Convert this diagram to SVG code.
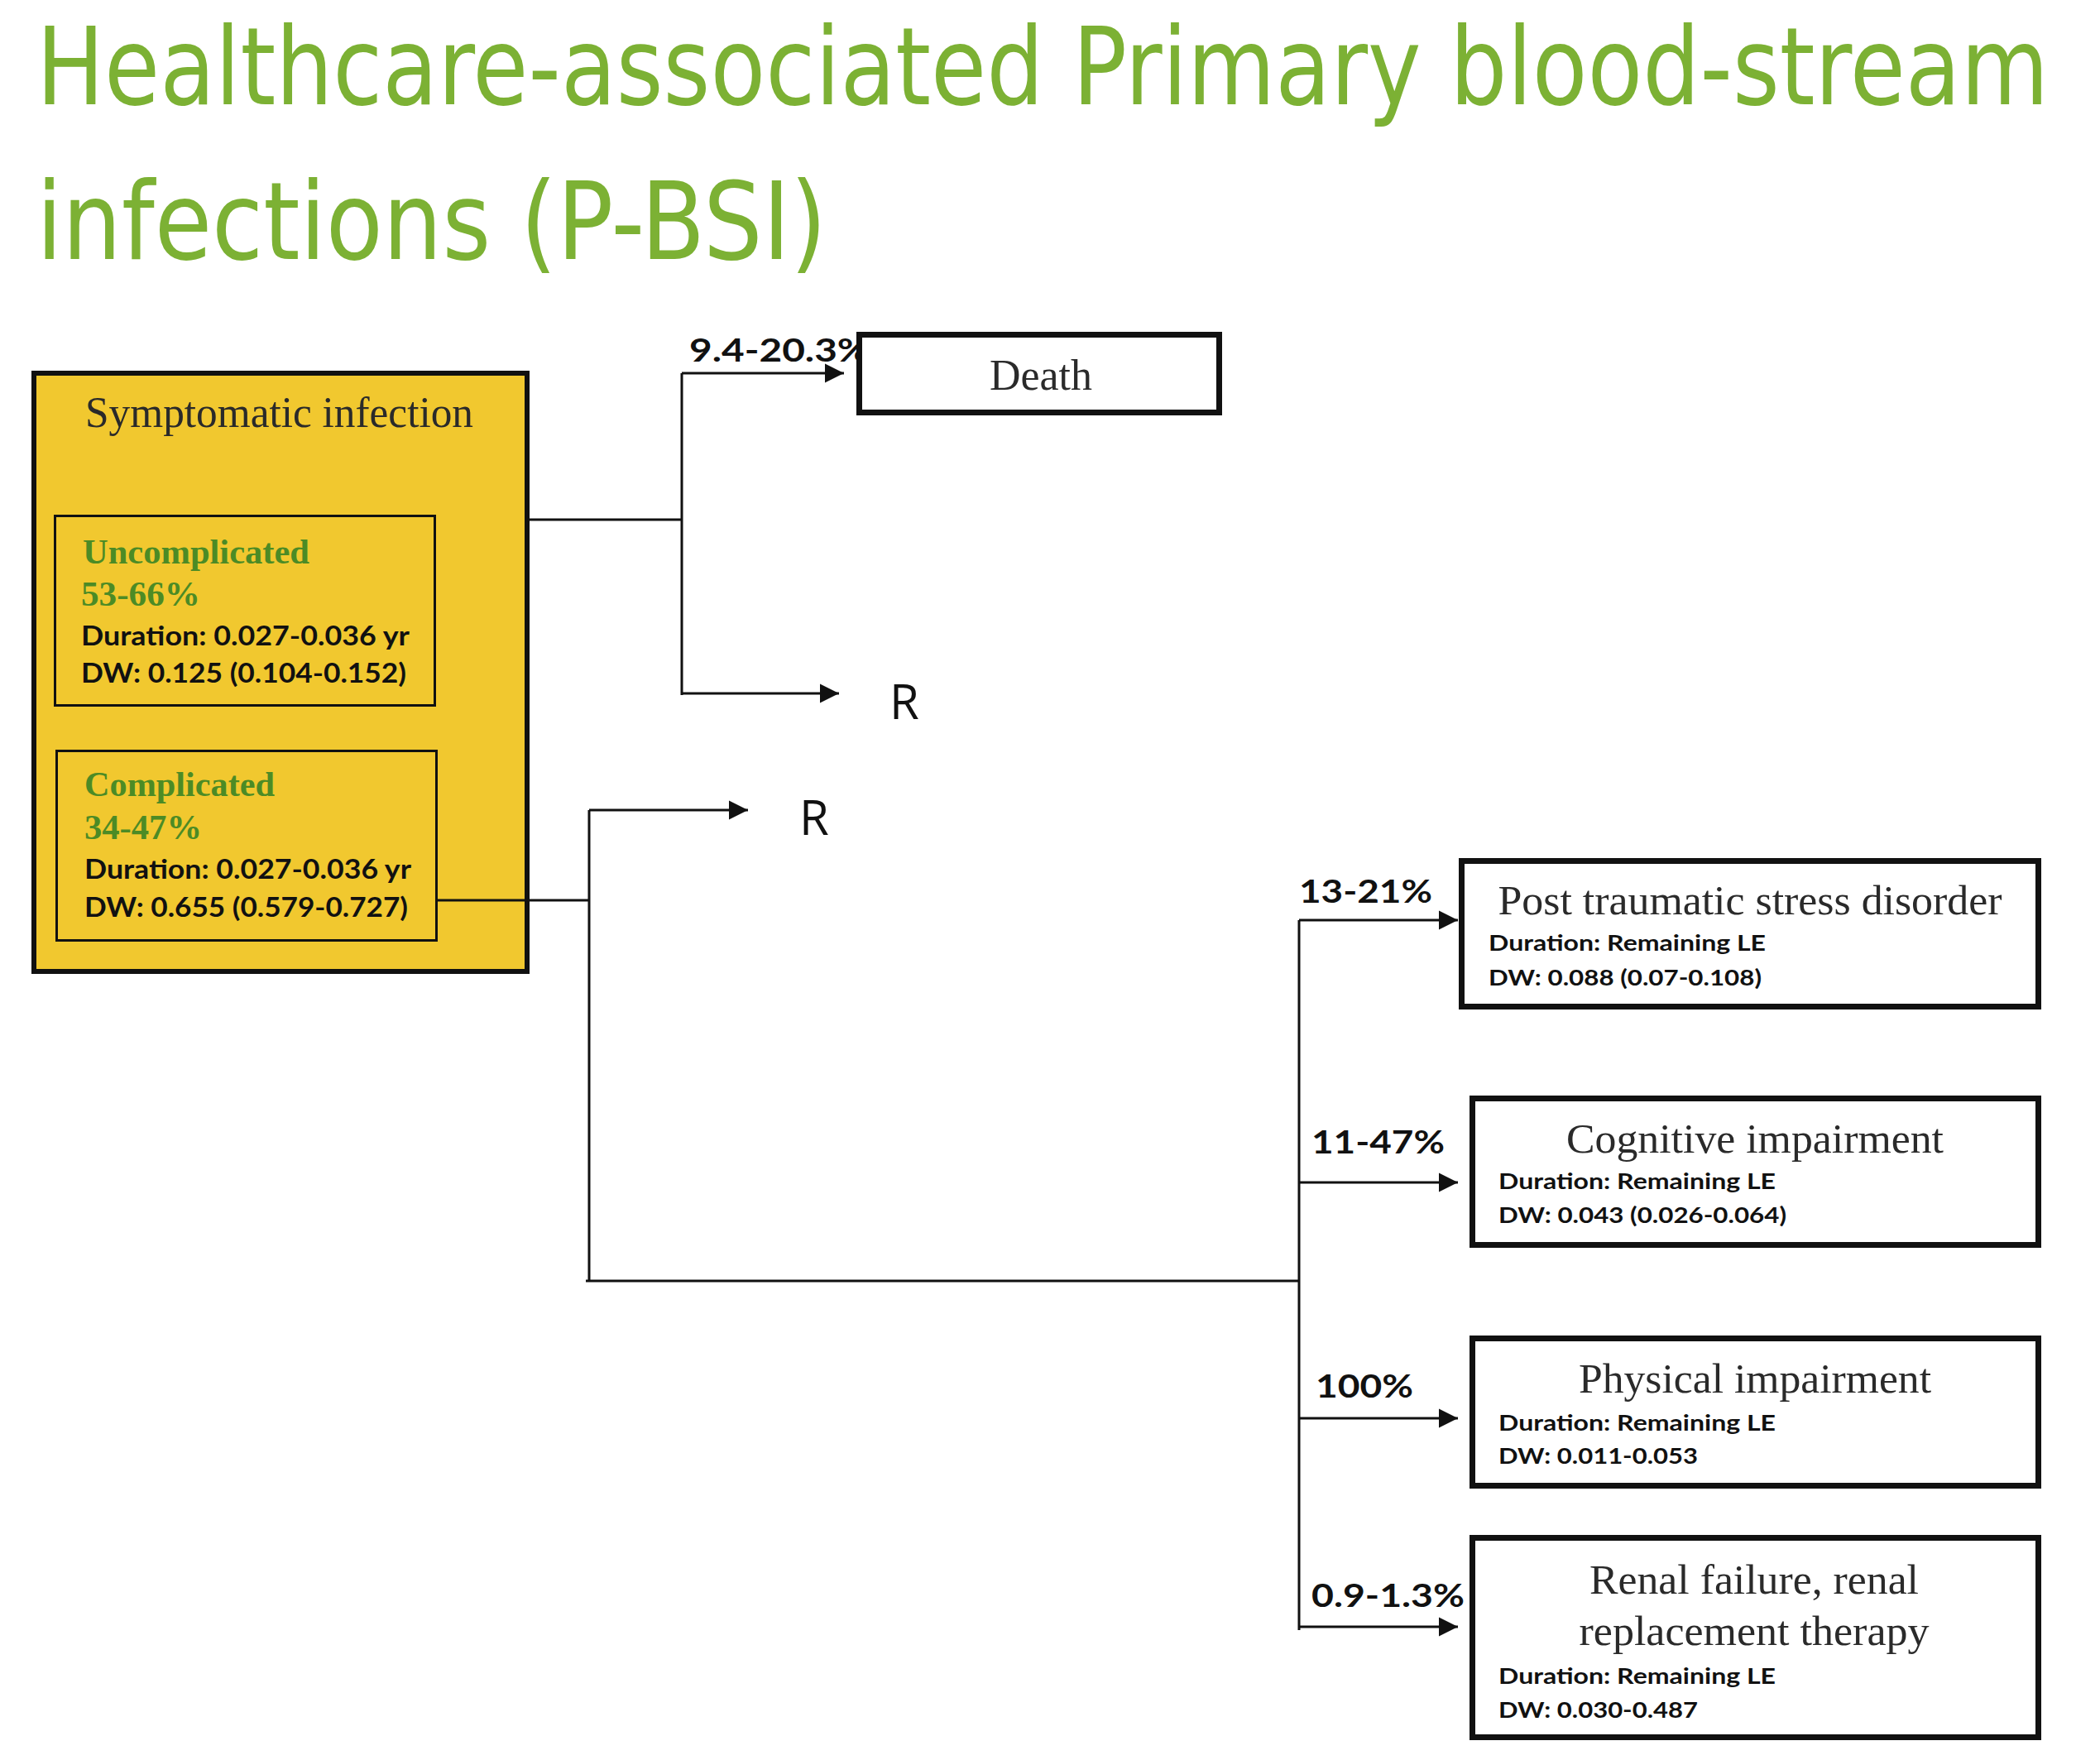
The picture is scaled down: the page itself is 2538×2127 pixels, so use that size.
<svg xmlns="http://www.w3.org/2000/svg" width="2538" height="2127" viewBox="0 0 2538 2127">
<defs>
<marker id="arr" markerUnits="userSpaceOnUse" markerWidth="24" markerHeight="24" viewBox="0 0 24 24" refX="23" refY="12" orient="auto">
<path d="M0,0.5 L23,12 L0,23.5 Z" fill="#111"/>
</marker>
<style>
.title{font-family:"DejaVu Sans Condensed","DejaVu Sans",sans-serif;font-size:130px;fill:#7CB134}
.box{fill:#fff;stroke:#111;stroke-width:7}
.head{font-family:"Liberation Serif","Times New Roman",serif;fill:#2a2a2a}
.det{font-family:Lato,"Liberation Sans",sans-serif;font-weight:bold;fill:#111}
.grn{font-family:"Liberation Serif","Times New Roman",serif;font-weight:bold;fill:#4C8B25;font-size:43px}
.lbl{font-family:Lato,"Liberation Sans",sans-serif;font-weight:bold;fill:#111;font-size:38px}
.r{font-family:"Open Sans","Noto Sans",sans-serif;fill:#111;font-size:58px}
.ln{fill:none;stroke:#111;stroke-width:3}
.la{fill:none;stroke:#111;stroke-width:3;marker-end:url(#arr)}
</style>
</defs>
<rect width="2538" height="2127" fill="#fff"/>
<g id="title">
<text class="title" x="44" y="126" textLength="2432" lengthAdjust="spacingAndGlyphs">Healthcare-associated Primary blood-stream</text>
<text class="title" x="44" y="313" textLength="955" lengthAdjust="spacingAndGlyphs">infections (P-BSI)</text>
</g>
<g id="symptomatic">
<rect x="41" y="451" width="596" height="723" fill="#F1C82F" stroke="#111" stroke-width="6"/>
<text class="head" x="103" y="516" font-size="52" fill="#111" textLength="469" lengthAdjust="spacingAndGlyphs">Symptomatic infection</text>
</g>
<g id="uncomplicated">
<rect x="66.5" y="623.5" width="459" height="229" fill="none" stroke="#111" stroke-width="3"/>
<text class="grn" x="100" y="681" textLength="274" lengthAdjust="spacingAndGlyphs">Uncomplicated</text>
<text class="grn" x="98" y="732" textLength="144" lengthAdjust="spacingAndGlyphs">53-66%</text>
<text class="det" x="98" y="780" font-size="33" textLength="397" lengthAdjust="spacingAndGlyphs">Duration: 0.027-0.036 yr</text>
<text class="det" x="98" y="825" font-size="33" textLength="393" lengthAdjust="spacingAndGlyphs">DW: 0.125 (0.104-0.152)</text>
</g>
<g id="complicated">
<rect x="68.5" y="907.5" width="459" height="229" fill="none" stroke="#111" stroke-width="3"/>
<text class="grn" x="102" y="962" textLength="230" lengthAdjust="spacingAndGlyphs">Complicated</text>
<text class="grn" x="102" y="1014" textLength="142" lengthAdjust="spacingAndGlyphs">34-47%</text>
<text class="det" x="102" y="1062" font-size="33" textLength="395" lengthAdjust="spacingAndGlyphs">Duration: 0.027-0.036 yr</text>
<text class="det" x="102" y="1108" font-size="33" textLength="391" lengthAdjust="spacingAndGlyphs">DW: 0.655 (0.579-0.727)</text>
</g>
<g id="connectors">
<path class="ln" d="M640,628 H824 M824,451 V840"/>
<path class="la" d="M824,451 H1020"/>
<path class="la" d="M824,838 H1014"/>
<path class="ln" d="M528,1088 H712 M712,979 V1548 M708,1548 H1571 M1570,1112 V1970"/>
<path class="la" d="M712,979 H904"/>
<path class="la" d="M1570,1112 H1762"/>
<path class="la" d="M1570,1429 H1762"/>
<path class="la" d="M1570,1714 H1762"/>
<path class="la" d="M1570,1966 H1762"/>
<text class="lbl" x="833" y="437" textLength="218" lengthAdjust="spacingAndGlyphs">9.4-20.3%</text>
<text class="r" x="1075" y="869">R</text>
<text class="r" x="966" y="1009">R</text>
<text class="lbl" x="1570" y="1091" textLength="161" lengthAdjust="spacingAndGlyphs">13-21%</text>
<text class="lbl" x="1585" y="1394" textLength="161" lengthAdjust="spacingAndGlyphs">11-47%</text>
<text class="lbl" x="1590" y="1689" textLength="118" lengthAdjust="spacingAndGlyphs">100%</text>
<text class="lbl" x="1585" y="1942" textLength="185" lengthAdjust="spacingAndGlyphs">0.9-1.3%</text>
</g>
<g id="death">
<rect class="box" x="1038.5" y="404.5" width="435" height="94"/>
<text class="head" x="1258" y="471" font-size="53" text-anchor="middle" textLength="124" lengthAdjust="spacingAndGlyphs">Death</text>
</g>
<g id="ptsd">
<rect class="box" x="1766.5" y="1040.5" width="697" height="176"/>
<text class="head" x="2115" y="1105" font-size="50" text-anchor="middle" textLength="609" lengthAdjust="spacingAndGlyphs">Post traumatic  stress disorder</text>
<text class="det" x="1799" y="1149" font-size="27" textLength="335" lengthAdjust="spacingAndGlyphs">Duration: Remaining LE</text>
<text class="det" x="1799" y="1191" font-size="27" textLength="330" lengthAdjust="spacingAndGlyphs">DW: 0.088 (0.07-0.108)</text>
</g>
<g id="cognitive">
<rect class="box" x="1779.5" y="1327.5" width="684" height="177"/>
<text class="head" x="2121" y="1393" font-size="50" text-anchor="middle" textLength="456" lengthAdjust="spacingAndGlyphs">Cognitive impairment</text>
<text class="det" x="1811" y="1437" font-size="27" textLength="335" lengthAdjust="spacingAndGlyphs">Duration: Remaining LE</text>
<text class="det" x="1811" y="1478" font-size="27" textLength="348" lengthAdjust="spacingAndGlyphs">DW: 0.043 (0.026-0.064)</text>
</g>
<g id="physical">
<rect class="box" x="1779.5" y="1617.5" width="684" height="178"/>
<text class="head" x="2121" y="1683" font-size="50" text-anchor="middle" textLength="426" lengthAdjust="spacingAndGlyphs">Physical impairment</text>
<text class="det" x="1811" y="1729" font-size="27" textLength="335" lengthAdjust="spacingAndGlyphs">Duration: Remaining LE</text>
<text class="det" x="1811" y="1769" font-size="27" textLength="241" lengthAdjust="spacingAndGlyphs">DW: 0.011-0.053</text>
</g>
<g id="renal">
<rect class="box" x="1779.5" y="1858.5" width="684" height="241"/>
<text class="head" x="2120" y="1926" font-size="50" text-anchor="middle" textLength="398" lengthAdjust="spacingAndGlyphs">Renal failure, renal</text>
<text class="head" x="2120" y="1988" font-size="50" text-anchor="middle" textLength="423" lengthAdjust="spacingAndGlyphs">replacement therapy</text>
<text class="det" x="1811" y="2035" font-size="27" textLength="335" lengthAdjust="spacingAndGlyphs">Duration: Remaining LE</text>
<text class="det" x="1811" y="2076" font-size="27" textLength="241" lengthAdjust="spacingAndGlyphs">DW: 0.030-0.487</text>
</g>
</svg>
